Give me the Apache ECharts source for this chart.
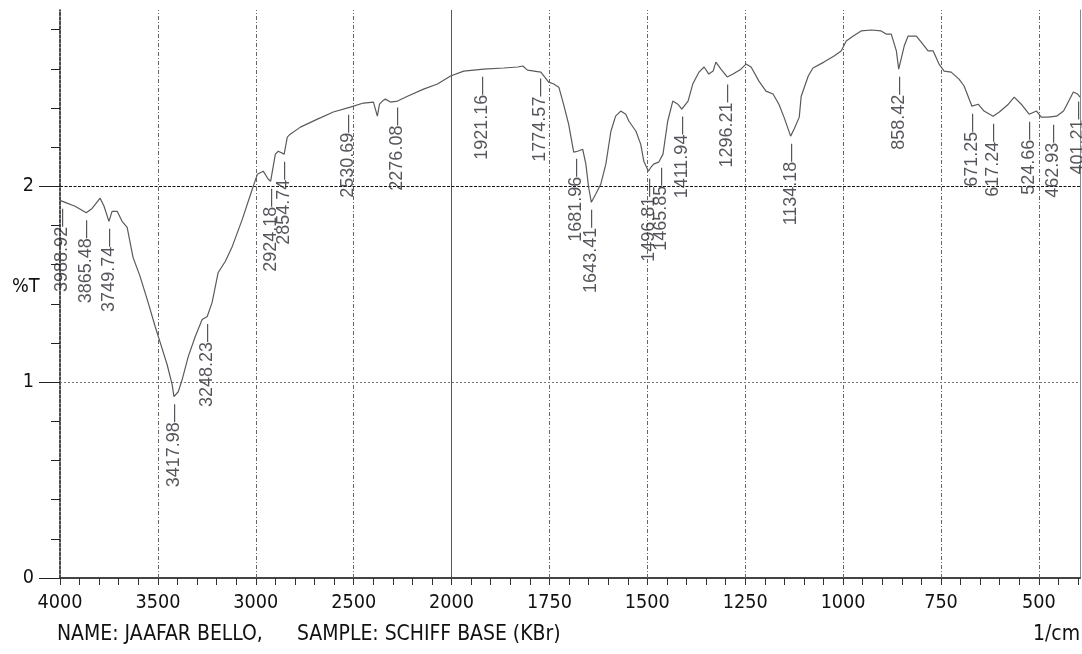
<!DOCTYPE html>
<html><head><meta charset="utf-8">
<script src="https://cdn.jsdelivr.net/npm/echarts@6/dist/echarts.min.js"></script>
<style>html,body{margin:0;padding:0;background:#fff}#c{width:1082px;height:654px}</style>
</head><body><div id="c"></div>
<script>
// ---- data (wavenumber in 1/cm, transmittance as plotted) ----
const wavenumbers = [
 4000,3974,3923,3866,3836,3795,3775,3750,3734,3708,
 3683,3657,3627,3591,3550,3514,3488,3453,3427,3418,
 3396,3376,3345,3309,3274,3248,3223,3192,3156,3120,
 3069,3018,2992,2962,2936,2924,2900,2885,2855,2839,
 2824,2772,2685,2604,2517,2450,2399,2379,2368,2353,
 2338,2312,2276,2225,2143,2072,2005,1969,1918,1867,
 1831,1818,1806,1772,1752,1739,1726,1714,1701,1688,
 1678,1665,1657,1650,1643,1632,1619,1606,1593,1581,
 1568,1555,1547,1529,1517,1509,1497,1491,1484,1471,
 1460,1448,1435,1422,1412,1396,1384,1368,1355,1343,
 1332,1325,1312,1296,1281,1261,1248,1235,1215,1197,
 1179,1164,1151,1134,1125,1112,1107,1089,1077,1049,
 1023,1005,992,974,954,928,903,890,877,864,
 858,844,834,813,801,783,770,755,742,724,
 704,691,671,655,640,617,601,578,563,545,
 525,506,494,476,455,437,425,412,401,395
];
const transmittance = [
 1.928,1.918,1.898,1.865,1.887,1.939,1.898,1.821,1.872,1.872,
 1.821,1.790,1.637,1.540,1.407,1.284,1.202,1.090,0.987,0.926,
 0.951,1.013,1.130,1.233,1.320,1.335,1.407,1.560,1.616,1.693,
 1.831,1.985,2.061,2.077,2.036,2.026,2.164,2.179,2.164,2.251,
 2.266,2.302,2.343,2.379,2.404,2.425,2.430,2.358,2.419,2.435,
 2.445,2.430,2.435,2.460,2.496,2.522,2.563,2.588,2.598,2.604,
 2.609,2.614,2.593,2.583,2.532,2.522,2.506,2.419,2.317,2.174,
 2.179,2.189,2.113,1.995,1.918,1.959,2.010,2.113,2.281,2.358,
 2.384,2.368,2.332,2.281,2.215,2.128,2.077,2.097,2.113,2.123,
 2.164,2.332,2.435,2.419,2.394,2.435,2.522,2.583,2.609,2.573,
 2.588,2.634,2.598,2.558,2.573,2.598,2.624,2.609,2.537,2.486,
 2.471,2.419,2.353,2.256,2.292,2.353,2.460,2.563,2.604,2.634,
 2.665,2.691,2.742,2.767,2.793,2.798,2.793,2.777,2.777,2.691,
 2.598,2.716,2.767,2.767,2.737,2.691,2.691,2.624,2.588,2.583,
 2.547,2.512,2.409,2.419,2.384,2.358,2.379,2.419,2.455,2.419,
 2.368,2.384,2.353,2.353,2.358,2.384,2.430,2.481,2.471,2.455
];
const peakWavenumbers = [3988.92,3865.48,3749.74,3417.98,3248.23,2924.18,2854.74,2530.69,2276.08,1921.16,
 1774.57,1681.96,1643.41,1496.81,1465.85,1411.94,1296.21,1134.18,858.42,671.25,617.24,524.66,462.93,401.21];
const peakTransmittance = [1.923,1.865,1.821,0.926,1.335,2.026,2.164,2.404,2.440,2.598,
 2.588,2.179,1.918,2.077,2.133,2.394,2.558,2.256,2.598,2.409,2.358,2.368,2.353,2.471];
const xTickLabels = [4000,3500,3000,2500,2000,1750,1500,1250,1000,750,500];
const yTickLabels = [0,1,2];
const yAxisName = '%T';
const xAxisUnit = '1/cm';
const footerName = 'NAME: JAAFAR BELLO,';
const footerSample = 'SAMPLE: SCHIFF BASE (KBr)';

// ---- axis mapping: 4000-2000 drawn at half the scale of 2000-400 ----
function toT(w){ return w >= 2000 ? (4000 - w) / 2 : 1000 + (2000 - w); }
function fromT(t){ return t <= 1000 ? 4000 - 2 * t : 2000 - (t - 1000); }

// ---- pick a condensed font if one is installed, and size text to the reference widths ----
const ctx = document.createElement('canvas').getContext('2d');
function measure(font, txt){ ctx.font = font; return ctx.measureText(txt).width; }
function pickFamily(){
  const cands = ['Liberation Sans Narrow', 'Arial Narrow', 'DejaVu Sans Condensed', 'Liberation Sans'];
  for (const f of cands) {
    const a = measure('100px "' + f + '", monospace', '4000 NAME: BELLO');
    const b = measure('100px monospace', '4000 NAME: BELLO');
    if (Math.abs(a - b) > 0.5) return f;
  }
  return 'sans-serif';
}
const FAM = pickFamily();
const NARROW = '"' + FAM + '",sans-serif';
function fitSize(txt, target){ return target / (measure('100px ' + NARROW, txt) / 100); }
const tickSize = Math.min(22, fitSize('4000', 45));
const footSize = Math.min(22, fitSize(footerName, 206));
const REG = '"Liberation Sans",Arial,sans-serif';
const X_MAX = toT(395), Y_MAX = 2.9;

const curve = wavenumbers.map((w, i) => [toT(w), transmittance[i]]);
const peaks = peakWavenumbers.map((w, i) => ({ name: w.toFixed(2), value: [toT(w), peakTransmittance[i]] }));

const minorX = []; for (let t = 0; t <= 2600; t += 50) minorX.push(t);
const minorY = []; for (let k = 1; k <= 14; k++) { if (k % 5) minorY.push(+(k * 0.2).toFixed(1)); }

const gridDash = { color: '#666', width: 1, type: [4, 2, 1, 2] };
const vLines = xTickLabels.filter(v => v !== 4000).map(v => ({
  xAxis: toT(v),
  lineStyle: v === 2000 ? { color: '#555', width: 1, type: 'solid' } : gridDash
}));
const hLines = [
  { yAxis: 1, lineStyle: { color: '#777', width: 1, type: [2, 2] } },
  { yAxis: 2, lineStyle: { color: '#111', width: 1.2, type: [3, 1.5] } }
];
const txt = (size) => ({ fontFamily: NARROW, fontSize: size, fontWeight: 'normal', color: '#111' });

const chart = echarts.init(document.getElementById('c'), null, { renderer: 'canvas' });
chart.setOption({
  animation: false,
  backgroundColor: '#fff',
  title: [
    { text: footerName, left: 52, top: 619, textStyle: txt(footSize) },
    { text: footerSample, left: 292, top: 619, textStyle: txt(footSize) },
    { text: xAxisUnit, right: -3, top: 619, textStyle: txt(footSize) },
    { text: yAxisName, left: 7, top: 272, textStyle: txt(tickSize) }
  ],
  grid: { left: 60, right: 2, top: 10, bottom: 76, containLabel: false },
  xAxis: [
    {
      type: 'value', min: 0, max: X_MAX, position: 'bottom',
      axisLine: { lineStyle: { color: '#333', width: 1 } },
      axisTick: { customValues: minorX, length: 7, lineStyle: { color: '#333' } },
      axisLabel: { customValues: xTickLabels.map(toT), formatter: v => String(Math.round(fromT(v))),
        fontFamily: NARROW, fontSize: tickSize, color: '#111', margin: 15 },
      splitLine: { show: false }
    },
    {
      type: 'value', min: 0, max: X_MAX, position: 'top',
      axisLine: { lineStyle: { color: '#444', width: 2 } },
      axisTick: { show: false }, axisLabel: { show: false }, splitLine: { show: false }
    }
  ],
  yAxis: [
    {
      type: 'value', min: 0, max: Y_MAX, position: 'left',
      axisLine: { show: true, lineStyle: { color: '#111', width: 1.5, type: [3, 1.5] } },
      axisTick: { show: true, customValues: minorY, length: 9, lineStyle: { color: '#222' } },
      axisLabel: { customValues: yTickLabels, fontFamily: NARROW, fontSize: tickSize, color: '#111', margin: 26 },
      splitLine: { show: false }
    },
    {
      type: 'value', min: 0, max: Y_MAX, position: 'left',
      axisLine: { show: false },
      axisTick: { show: true, customValues: yTickLabels, length: 21, lineStyle: { color: '#222' } },
      axisLabel: { show: false }, splitLine: { show: false }
    },
    {
      type: 'value', min: 0, max: Y_MAX, position: 'right',
      axisLine: { show: true, lineStyle: { color: '#888', width: 1 } },
      axisTick: { show: false }, axisLabel: { show: false }, splitLine: { show: false }
    }
  ],
  series: [
    {
      type: 'line', data: curve, showSymbol: false, z: 3,
      lineStyle: { color: '#5a5a5a', width: 1.2 },
      markLine: { silent: true, symbol: ['none', 'none'], z: 1, label: { show: false },
        animation: false, data: vLines.concat(hLines) }
    },
    {
      type: 'scatter', data: peaks, symbolSize: 1, z: 4,
      itemStyle: { color: 'rgba(0,0,0,0)' },
      label: { show: true, position: 'bottom', distance: 7, rotate: 90, align: 'right', verticalAlign: 'middle',
        formatter: '{b}\u2014', fontFamily: REG, fontSize: 18, color: '#2b2b33' }
    }
  ]
});
</script></body></html>
